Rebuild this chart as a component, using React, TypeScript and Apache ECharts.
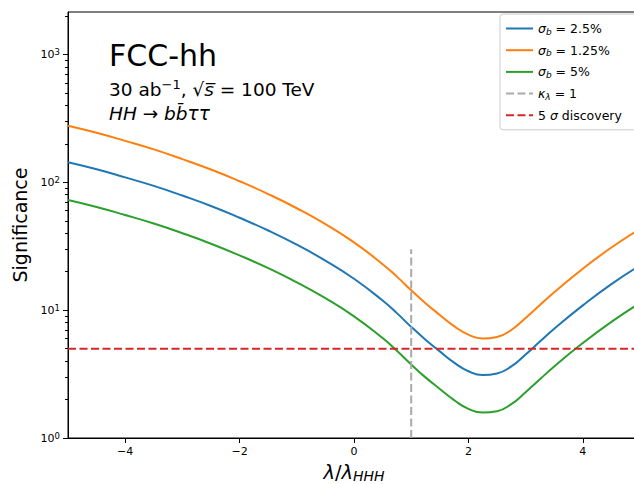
import React, { useEffect, useRef } from "react";
import * as echarts from "echarts";

// ---- data ----
const xValues = [-5, -4.5, -4, -3.5, -3, -2.5, -2, -1.5, -1, -0.5, 0, 0.5, 0.75, 1, 1.25, 1.5, 1.75, 2, 2.25, 2.5, 2.75, 3, 3.25, 3.5, 4, 4.5, 5];
const sigma2p5 = [143.5, 126.4, 109.3, 93.8, 78.8, 65.3, 52.8, 42, 32.5, 24.4, 17.6, 11.9, 9.48, 7.4, 5.88, 4.76, 3.89, 3.33, 3.11, 3.2, 3.63, 4.5, 5.68, 7.15, 10.9, 16.0, 22.4];
const sigma1p25 = [277, 244, 211, 181, 152, 126, 102, 81, 62.7, 47.1, 33.9, 22.9, 18.3, 14.3, 11.35, 9.18, 7.5, 6.43, 6.0, 6.17, 7.0, 8.7, 10.96, 13.8, 21.1, 30.9, 43.2];
const sigma5 = [72.8, 64.2, 55.5, 47.6, 40, 33.1, 26.8, 21.3, 16.5, 12.4, 8.95, 6.05, 4.81, 3.76, 2.98, 2.42, 1.98, 1.69, 1.58, 1.62, 1.84, 2.28, 2.88, 3.63, 5.53, 8.1, 11.4];
const kappaLine = [[1, 1], [1, 30]];
const discoveryLine = [[-5, 5], [5, 5]];
const xTicks = [-4, -2, 0, 2, 4];
const yMajorTicks = [1, 10, 100, 1000];
const yMinorTicks = [2, 3, 4, 5, 6, 7, 8, 9, 20, 30, 40, 50, 60, 70, 80, 90, 200, 300, 400, 500, 600, 700, 800, 900, 2000];
const seriesNames = ["σb = 2.5%", "σb = 1.25%", "σb = 5%", "κλ = 1", "5 σ discovery"];
const legendRich: Record<string, string> = {
  "σb = 2.5%": "{i|σ}{sub|b}{t| = 2.5%}",
  "σb = 1.25%": "{i|σ}{sub|b}{t| = 1.25%}",
  "σb = 5%": "{i|σ}{sub|b}{t| = 5%}",
  "κλ = 1": "{i|κ}{sub|λ}{t| = 1}",
  "5 σ discovery": "{t|5 }{i|σ}{t| discovery}",
};

const FONT = "DejaVu Sans";

export default function App() {
  const ref = useRef<HTMLDivElement>(null);
  useEffect(() => {
    if (!ref.current) return;
    const chart = echarts.init(ref.current, null, { renderer: "svg" });
    const zip = (ys: number[]) => xValues.map((x, i) => [x, ys[i]]);
    const curve = (name: string, ys: number[], color: string) => ({
      name, type: "line", data: zip(ys), symbol: "none", smooth: 0.5,
      lineStyle: { color, width: 2 }, itemStyle: { color, opacity: 0 },
    });
    const option: any = {
      animation: false,
      grid: {
        left: 68, top: 12, right: -6, bottom: 46,
        show: true, borderColor: "#000", borderWidth: 1,
        backgroundColor: "transparent",
        containLabel: false, outerBoundsMode: "none",
      },
      xAxis: {
        type: "value", min: -5, max: 5,
        axisLine: { show: true, onZero: false, lineStyle: { color: "#000", width: 1 } },
        axisTick: { show: true, length: 5, customValues: xTicks, lineStyle: { color: "#000" } },
        axisLabel: {
          customValues: xTicks, margin: 8, fontSize: 11, fontFamily: FONT, color: "#000",
          formatter: (v: number) => (v < 0 ? "\u2212" + Math.abs(v) : String(v)),
        },
        splitLine: { show: false },
        name: "{i|λ}{t|/}{i|λ}{sub|HHH}",
        nameLocation: "middle", nameGap: 23,
        nameTextStyle: {
          fontSize: 19, fontFamily: FONT, color: "#000",
          rich: {
            i: { fontSize: 19.5, fontStyle: "italic", fontFamily: FONT, color: "#000", lineHeight: 22 },
            t: { fontSize: 19.5, fontFamily: FONT, color: "#000", lineHeight: 22 },
            sub: { fontSize: 14, fontStyle: "italic", fontFamily: FONT, color: "#000", lineHeight: 14, verticalAlign: "bottom" },
          },
        },
      },
      yAxis: [
        {
          type: "log", min: 1, max: 2150, logBase: 10,
          axisLine: { show: true, onZero: false, lineStyle: { color: "#000", width: 1 } },
          axisTick: { show: true, length: 5, customValues: yMajorTicks, lineStyle: { color: "#000" } },
          axisLabel: {
            customValues: yMajorTicks, margin: 8,
            formatter: (v: number) => "{b|10}{s|" + Math.round(Math.log10(v)) + "}",
            rich: {
              b: { fontSize: 11, fontFamily: FONT, color: "#000", lineHeight: 14 },
              s: { fontSize: 8.5, fontFamily: FONT, color: "#000", lineHeight: 8.5, verticalAlign: "top" },
            },
          },
          splitLine: { show: false },
          minorTick: { show: false },
          name: "Significance", nameLocation: "middle", nameGap: 36,
          nameTextStyle: { fontSize: 19, fontFamily: FONT, color: "#000" },
        },
        {
          type: "log", min: 1, max: 2150, logBase: 10, position: "left",
          axisLine: { show: false, onZero: false },
          axisTick: { show: true, length: 3, customValues: yMinorTicks, lineStyle: { color: "#000" } },
          axisLabel: { show: false },
          splitLine: { show: false },
        },
      ],
      legend: {
        orient: "vertical", left: 500, top: 14,
        itemWidth: 27, itemHeight: 14, itemGap: 7.7,
        padding: [8, 16, 8, 5],
        backgroundColor: "rgba(255,255,255,0.8)",
        borderColor: "#cccccc", borderWidth: 1, borderRadius: 3,
        data: seriesNames,
        itemStyle: { opacity: 0 },
        formatter: (name: string) => legendRich[name] || name,
        textStyle: {
          fontSize: 12.5, fontFamily: FONT, color: "#000",
          rich: {
            i: { fontSize: 12.5, fontStyle: "italic", fontFamily: FONT, color: "#000", lineHeight: 15 },
            t: { fontSize: 12.5, fontFamily: FONT, color: "#000", lineHeight: 15 },
            sub: { fontSize: 9, fontStyle: "italic", fontFamily: FONT, color: "#000", lineHeight: 9, verticalAlign: "bottom" },
          },
        },
      },
      graphic: [
        {
          type: "text", x: 109, y: 55,
          style: { text: "FCC-hh", fontSize: 30, fontFamily: FONT, fill: "#000", align: "left", verticalAlign: "middle" },
        },
        {
          type: "text", x: 109, y: 89,
          style: {
            text: "{t|30 ab}{sup|\u22121}{t|, \u221A}{i|s\u0305}{t| = 100 TeV}",
            fontSize: 18.5, fontFamily: FONT, fill: "#000", align: "left", verticalAlign: "middle",
            rich: {
              t: { fontSize: 18.5, fontFamily: FONT, fill: "#000", lineHeight: 22 },
              i: { fontSize: 18.5, fontStyle: "italic", fontFamily: FONT, fill: "#000", lineHeight: 22 },
              sup: { fontSize: 13, fontFamily: FONT, fill: "#000", lineHeight: 13, verticalAlign: "top" },
            },
          },
        },
        {
          type: "text", x: 109, y: 113,
          style: {
            text: "{i|HH}{t| \u2192 }{i|bb\u0304\u03C4\u03C4}",
            fontSize: 18.5, fontFamily: FONT, fill: "#000", align: "left", verticalAlign: "middle",
            rich: {
              t: { fontSize: 18.5, fontFamily: FONT, fill: "#000", lineHeight: 22 },
              i: { fontSize: 18.5, fontStyle: "italic", fontFamily: FONT, fill: "#000", lineHeight: 22 },
            },
          },
        },
      ],
      series: [
        curve(seriesNames[0], sigma2p5, "#1f77b4"),
        curve(seriesNames[1], sigma1p25, "#ff7f0e"),
        curve(seriesNames[2], sigma5, "#2ca02c"),
        {
          name: seriesNames[3], type: "line", data: kappaLine, symbol: "none",
          lineStyle: { color: "#aaaaaa", width: 2, type: [8, 3.5] }, itemStyle: { color: "#aaaaaa", opacity: 0 },
        },
        {
          name: seriesNames[4], type: "line", data: discoveryLine, symbol: "none",
          lineStyle: { color: "#d62728", width: 2, type: [8, 3.5] }, itemStyle: { color: "#d62728", opacity: 0 },
        },
      ],
    };
    chart.setOption(option);
    return () => chart.dispose();
  }, []);
  return <div ref={ref} style={{ position: "absolute", left: 0, top: 0, width: 634, height: 484 }} />;
}
